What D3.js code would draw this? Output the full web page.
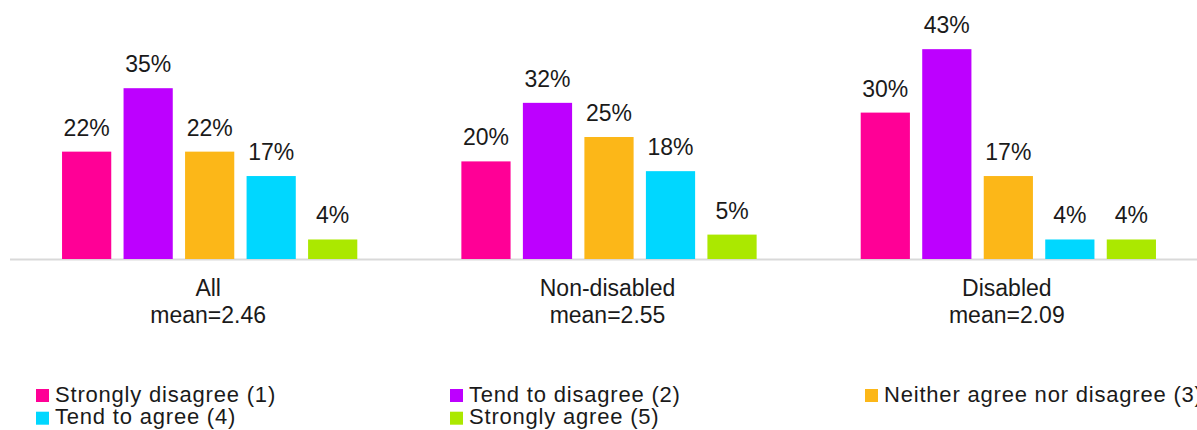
<!DOCTYPE html>
<html>
<head>
<meta charset="utf-8">
<script src="https://cdn.jsdelivr.net/npm/d3@7"></script>
<style>
  html, body { margin: 0; padding: 0; background: #fff; }
  svg { display: block; font-family: "Liberation Sans", Arial, sans-serif; }
</style>
</head>
<body>
<svg id="chart" width="1197" height="430"></svg>
<script>
// Groups, their x-axis labels and the response scale
const groups = ["All", "Non-disabled", "Disabled"];
const groupMeans = ["mean=2.46", "mean=2.55", "mean=2.09"];
const responses = [
  "Strongly disagree (1)",
  "Tend to disagree (2)",
  "Neither agree nor disagree (3)",
  "Tend to agree (4)",
  "Strongly agree (5)"
];
// Percentages per response, one value per group
const stronglyDisagree = [22, 20, 30];
const tendToDisagree   = [35, 32, 43];
const neither          = [22, 25, 17];
const tendToAgree      = [17, 18, 4];
const stronglyAgree    = [4, 5, 4];

const colors = ["#ff0096", "#bd00ff", "#fcb718", "#00d7ff", "#abe800"];

const seriesValues = [stronglyDisagree, tendToDisagree, neither, tendToAgree, stronglyAgree];
const table = groups.map((g, gi) => ({
  group: g,
  mean: groupMeans[gi],
  values: responses.map((r, ri) => ({ response: r, ri, value: seriesValues[ri][gi] }))
}));

const svg = d3.select("#chart");
const baseline = 259;

const x0 = d3.scaleBand().domain(groups).range([10, 1208]).padding(0);
const x1 = d3.scaleBand().domain(responses).range([0, x0.bandwidth()])
  .paddingInner(0.2).paddingOuter(0.846);
const y = d3.scaleLinear().domain([0, 50]).range([baseline, 15]);

// Baseline axis
svg.append("line")
  .attr("x1", 10).attr("x2", 1197)
  .attr("y1", baseline + 0.5).attr("y2", baseline + 0.5)
  .attr("stroke", "#d9d9d9").attr("stroke-width", 2);

const g = svg.selectAll("g.group").data(table).join("g")
  .attr("class", "group")
  .attr("transform", d => `translate(${x0(d.group)},0)`);

g.selectAll("rect").data(d => d.values).join("rect")
  .attr("x", d => x1(d.response))
  .attr("width", x1.bandwidth())
  .attr("y", d => y(d.value))
  .attr("height", d => y(0) - y(d.value))
  .attr("fill", d => colors[d.ri]);

g.selectAll("text.val").data(d => d.values).join("text")
  .attr("class", "val")
  .attr("x", d => x1(d.response) + x1.bandwidth() / 2)
  .attr("y", d => y(d.value) - 16)
  .attr("text-anchor", "middle")
  .attr("font-size", 23)
  .attr("fill", "#1a1a1a")
  .text(d => d.value + "%");

// Category labels below the axis
const cat = svg.selectAll("text.cat").data(table).join("text")
  .attr("class", "cat")
  .attr("text-anchor", "middle")
  .attr("font-size", 23)
  .attr("fill", "#1a1a1a");
cat.append("tspan")
  .attr("x", d => x0(d.group) + x0.bandwidth() / 2 - 1.5)
  .attr("y", 296)
  .text(d => d.group);
cat.append("tspan")
  .attr("x", d => x0(d.group) + x0.bandwidth() / 2 - 1.5)
  .attr("y", 323)
  .text(d => d.mean);

// Legend: three columns, two rows
const legendCols = [36, 450, 865];
const legendRows = [389, 411.7];
const legend = svg.selectAll("g.legend").data(responses).join("g")
  .attr("class", "legend")
  .attr("transform", (d, i) => `translate(${legendCols[i % 3]},${legendRows[Math.floor(i / 3)]})`);
legend.append("rect")
  .attr("width", 13).attr("height", 13)
  .attr("fill", (d, i) => colors[i]);
legend.append("text")
  .attr("x", 19).attr("y", 12.7)
  .attr("font-size", 22)
  .attr("letter-spacing", 0.8)
  .attr("fill", "#1a1a1a")
  .text(d => d);
</script>
</body>
</html>
